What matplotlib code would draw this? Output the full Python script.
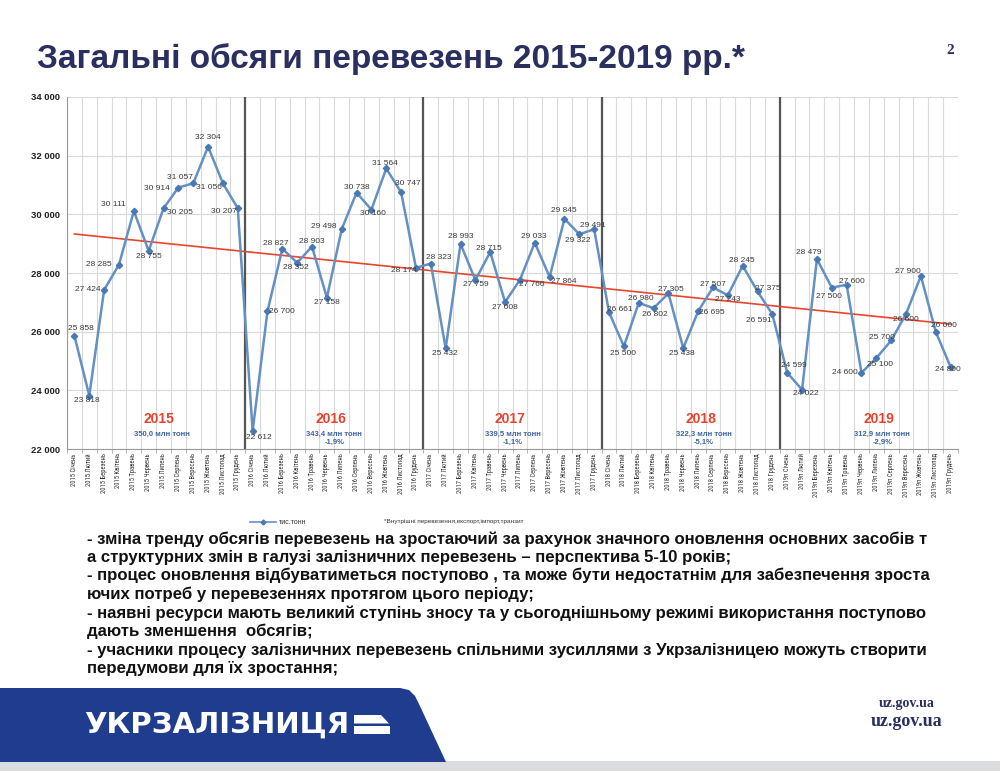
import matplotlib
matplotlib.use("Agg")
import matplotlib.pyplot as plt
from matplotlib import font_manager as fm
from matplotlib.patches import Polygon, Rectangle
from matplotlib.ticker import FuncFormatter, FixedLocator
import numpy as np

# ---------------- data ----------------
months = ['Січень', 'Лютий', 'Березень', 'Квітень', 'Травень', 'Червень',
          'Липень', 'Серпень', 'Вересень', 'Жовтень', 'Листопад', 'Грудень']
year_prefixes = ['2015', '2016', '2017', '2018', '2019п']

v2015 = [25858, 23818, 27424, 28285, 30111, 28755, 30205, 30914, 31057, 32304, 31056, 30207]
v2016 = [22612, 26700, 28827, 28352, 28903, 27158, 29498, 30738, 30160, 31564, 30747, 28174]
v2017 = [28323, 25432, 28993, 27759, 28715, 27008, 27766, 29033, 27864, 29845, 29322, 29491]
v2018 = [26661, 25500, 26980, 26802, 27305, 25438, 26695, 27507, 27243, 28245, 27375, 26591]
v2019 = [24599, 24022, 28479, 27500, 27600, 24600, 25100, 25700, 26600, 27900, 26000, 24800]

trend_start, trend_end = 29330, 26260

year_titles = ['2015', '2016', '2017', '2018', '2019']
year_totals = ['350,0 млн тонн', '343,4 млн тонн', '339,5 млн тонн', '322,3 млн тонн', '312,9 млн тонн']
year_changes = ['', '-1,9%', '-1,1%', '-5,1%', '-2,9%']

series_name = 'тис.тонн'
footnote = '*Внутрішні перевезення,експорт,імпорт,транзит'
title = 'Загальні обсяги перевезень 2015-2019 рр.*'
bullets = [
    '- зміна тренду обсягів перевезень на зростаючий за рахунок значного оновлення основних засобів т',
    'а структурних змін в галузі залізничних перевезень – перспектива 5-10 років;',
    '- процес оновлення відбуватиметься поступово , та може бути недостатнім для забезпечення зроста',
    'ючих потреб у перевезеннях протягом цього періоду;',
    '- наявні ресурси мають великий ступінь зносу та у сьогоднішньому режимі використання поступово',
    'дають зменшення  обсягів;',
    '- учасники процесу залізничних перевезень спільними зусиллями з Укрзалізницею можуть створити',
    'передумови для їх зростання;',
]

# ---------------- layout / style ----------------
label_offsets = [
    (6, 7), (-2, -5), (-16, 0), (-20, 0), (-20, 7), (0, -6), (16, -4), (-21, -1), (-13, 6), (0, 9), (-14, -4), (-14, -3),
    (6, -6), (14, 0), (-7, 5), (-1, -5), (0, 5), (0, -5), (-18, 3), (0, 5), (2, -4), (-1, 5), (7, 9), (-12, -3),
    (8, 6), (-1, -5), (0, 7), (0, -4), (-1, 4), (0, -5), (12, -5), (-1, 6), (14, -4), (-1, 8), (-2, -6), (-1, 4),
    (11, 3), (-1, -7), (2, 4), (1, -6), (2, 4), (-1, -5), (14, -1), (0, 3), (0, -4), (-1, 5), (10, 3), (-13, -6),
    (7, 7), (4, -4), (-8, 6), (-3, -9), (5, 3), (-17, 0), (4, -6), (-9, 3), (0, -5), (-13, 4), (8, 6), (-3, -3),
]
year_label_x = [5.7, 17.3, 29.3, 42.2, 54.2]

names = {f.name for f in fm.fontManager.ttflist}
narrow_kw = {'family': 'DejaVu Sans', 'fontstretch': 'condensed'}
for cand in ['Liberation Sans Narrow', 'Roboto Condensed', 'Open Sans Condensed']:
    if cand in names:
        narrow_kw = {'family': cand}
        break
sans = 'Liberation Sans' if 'Liberation Sans' in names else 'DejaVu Sans'
serif = 'Liberation Serif' if 'Liberation Serif' in names else 'DejaVu Serif'

NAVY = '#2b2f5f'
LINE = '#6590c2'
MARK = '#4a78b5'
RED = '#e8452c'
YEARRED = '#e8412e'
BLUE_TXT = '#3d63a8'

values = v2015 + v2016 + v2017 + v2018 + v2019
tick_labels = [f'{y} {m}' for y in year_prefixes for m in months]
x = np.arange(len(values))

fig = plt.figure(figsize=(10, 7.71), dpi=100)
fig.patch.set_facecolor('white')

fa = fig.add_axes([0, 0, 1, 1], zorder=0)
fa.set_xlim(0, 1000)
fa.set_ylim(771, 0)
fa.axis('off')

ax = fig.add_axes([0.067, 0.4176, 0.891, 0.4566], zorder=2)
ax.set_facecolor('none')

ax.set_xlim(-0.5, len(values) - 0.5)
ax.set_ylim(22000, 34000)
ax.set_yticks(np.arange(22000, 34001, 2000))
ax.yaxis.set_major_formatter(FuncFormatter(lambda v, p: f'{int(v):,}'.replace(',', ' ')))
ax.tick_params(axis='y', labelsize=6.8, length=0, pad=5, labelcolor='#222222')
for lab in ax.get_yticklabels():
    lab.set_fontweight('bold')
    lab.set_family(sans)

ax.set_xticks(x)
ax.set_xticklabels(tick_labels, rotation=90, fontsize=4.7, color='#333333', **narrow_kw)
ax.xaxis.set_minor_locator(FixedLocator(np.arange(-0.5, len(values), 1)))
ax.tick_params(axis='x', which='major', length=0, pad=3)
ax.tick_params(axis='x', which='minor', length=3, color='#aaaaaa', width=0.6)

ax.grid(axis='y', which='major', color='#d9d9d9', lw=0.8)
ax.grid(axis='x', which='minor', color='#d9d9d9', lw=0.8)
ax.set_axisbelow(True)
for s in ['top', 'right']:
    ax.spines[s].set_visible(False)
for s in ['left', 'bottom']:
    ax.spines[s].set_color('#999999')
    ax.spines[s].set_linewidth(0.8)

for k in range(1, 5):
    ax.axvline(12 * k - 0.5, color='#555555', lw=1.6, zorder=2)

ax.plot([x[0], x[-1]], [trend_start, trend_end], color=RED, lw=1.2, zorder=3)
ax.plot(x, values, color=LINE, lw=1.8, marker='D', markersize=3.2,
        markerfacecolor=MARK, markeredgecolor=MARK, zorder=4)

for xi, v, (dx, dy) in zip(x, values, label_offsets):
    ax.annotate(f'{v:,}'.replace(',', ' '), (xi, v), xytext=(dx, dy),
                textcoords='offset pixels', ha='center', va='center',
                fontsize=6, color='#3a3a3a', family=sans, zorder=5)

for xp, yt, tot, ch in zip(year_label_x, year_titles, year_totals, year_changes):
    ax.text(xp, 23020, yt, ha='center', va='center', fontsize=10,
            fontweight='bold', color=YEARRED, family=sans)
    ax.text(xp + 0.2, 22500, tot, ha='center', va='center', fontsize=5.5,
            fontweight='bold', color=BLUE_TXT, family=sans)
    if ch:
        ax.text(xp + 0.2, 22230, ch, ha='center', va='center', fontsize=5.5,
                fontweight='bold', color=BLUE_TXT, family=sans)

# legend & footnote
fa.plot([250, 276], [522, 522], color=LINE, lw=1.2)
fa.plot([263], [522], marker='D', markersize=2.5, color=MARK)
fa.text(279, 522, series_name, fontsize=5, va='center', ha='left', color='#333333', family=sans)
fa.text(384, 522, footnote, fontsize=4.6, va='center', ha='left', color='#333333', family=sans)

renderer = fig.canvas.get_renderer()


def fit_width(t, target):
    w = t.get_window_extent(renderer).width
    t.set_fontsize(t.get_fontsize() * target / w)


# title
tt = fa.text(37, 68, title, fontsize=22, fontweight='bold', color=NAVY, va='baseline', ha='left', family=sans)
fit_width(tt, 708)
fa.text(950, 50, '2', fontsize=11, fontweight='bold', color=NAVY, va='center', ha='center', family=serif)

# bullet text
ys = [539, 557.5, 575.5, 594, 613.5, 631.5, 650, 668]
btexts = [fa.text(87, yy, line, fontsize=11, fontweight='bold', color='#111111',
                  va='center', ha='left', family=sans) for yy, line in zip(ys, bullets)]
w0 = btexts[0].get_window_extent(renderer).width
bsize = 11 * 850 / w0
for t in btexts:
    t.set_fontsize(bsize)

# footer
fa.add_patch(Rectangle((0, 761), 1000, 10, color='#dadcdf', lw=0))
fa.add_patch(Polygon([(0, 688), (400, 688), (409, 690), (415, 696), (419, 704), (446, 762), (0, 762)],
                     closed=True, color='#1f3c8e', lw=0))
lt = fa.text(84, 725, 'УКРЗАЛІЗНИЦЯ', fontsize=19, fontweight='bold', color='white', va='center', ha='left',
             family='DejaVu Sans')
fit_width(lt, 266)
fa.add_patch(Polygon([(354, 715), (381, 715), (389, 723.5), (354, 723.5)], closed=True, color='white', lw=0))
fa.add_patch(Rectangle((354, 726), 36, 7.5, color='white', lw=0))
fa.text(907, 704, 'uz.gov.ua', fontsize=10, fontweight='bold', color=NAVY, va='center', ha='center', family=serif)
fa.text(907, 722, 'uz.gov.ua', fontsize=13, fontweight='bold', color=NAVY, va='center', ha='center', family=serif)

fig.savefig('out.png', dpi=100, facecolor='white')
